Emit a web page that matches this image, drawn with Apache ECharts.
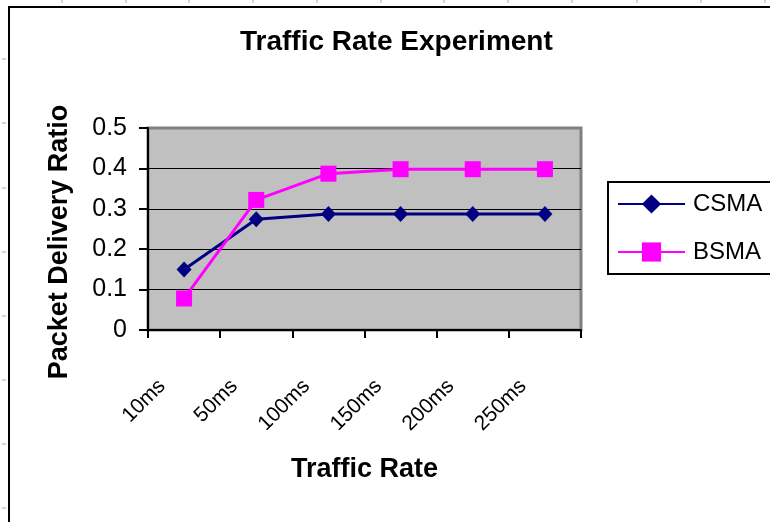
<!DOCTYPE html>
<html>
<head>
<meta charset="utf-8">
<script src="https://cdn.jsdelivr.net/npm/echarts@6/dist/echarts.min.js"></script>
<style>
  html, body { margin: 0; padding: 0; background: #fff; }
  #chart { width: 770px; height: 522px; }
</style>
</head>
<body>
<div id="chart"></div>
<script>
// Traffic rate sweep: packet delivery ratio per MAC scheme
const categories = ['10ms', '50ms', '100ms', '150ms', '200ms', '250ms'];
const csma = [0.15, 0.274, 0.287, 0.287, 0.287, 0.287];
const bsma = [0.078, 0.322, 0.387, 0.398, 0.398, 0.398];
const yTicks = { min: 0, max: 0.5, step: 0.1 };

const FONT = '"Liberation Sans", Arial, sans-serif';

// faint spreadsheet cell markers around the chart object
const cellMarks = [];
[62, 126, 189, 253, 317, 381, 444, 508, 572, 637, 701, 765].forEach(function (x) {
  cellMarks.push({ type: 'rect', silent: true, shape: { x: x - 1, y: 0, width: 2, height: 3 }, style: { fill: '#c9d3f7' } });
});
[59, 123, 188, 252, 316, 380, 444, 508].forEach(function (y) {
  cellMarks.push({ type: 'rect', silent: true, shape: { x: 2, y: y - 1, width: 4, height: 2 }, style: { fill: '#c9d3f7' } });
});

const chart = echarts.init(document.getElementById('chart'), null, { renderer: 'canvas' });
chart.setOption({
  animation: false,
  backgroundColor: '#fff',
  title: {
    text: 'Traffic Rate Experiment',
    left: 235,
    top: 23,
    textStyle: { fontFamily: FONT, fontSize: 28, fontWeight: 'bold', color: '#000' }
  },
  legend: {
    orient: 'vertical',
    left: 608,
    top: 182,
    padding: [10, 40, 10, 9],
    itemWidth: 67,
    itemHeight: 24,
    itemGap: 24,
    borderColor: '#000',
    borderWidth: 2,
    textStyle: { fontFamily: FONT, fontSize: 24, color: '#000', padding: [0, 0, 0, 3] },
    data: ['CSMA', 'BSMA']
  },
  grid: {
    left: 148,
    right: 189,
    top: 128,
    bottom: 192,
    containLabel: false,
    outerBoundsMode: 'none',
    show: true,
    backgroundColor: '#c0c0c0',
    borderColor: '#808080',
    borderWidth: 3
  },
  xAxis: {
    type: 'category',
    data: categories,
    boundaryGap: true,
    name: 'Traffic Rate',
    nameLocation: 'middle',
    nameGap: 126,
    nameTextStyle: { fontFamily: FONT, fontSize: 27, fontWeight: 'bold', color: '#000' },
    axisLine: { lineStyle: { color: '#000', width: 2 } },
    axisTick: { show: true, inside: false, length: 8, alignWithLabel: false, lineStyle: { color: '#000', width: 2 } },
    axisLabel: {
      rotate: 45,
      interval: 0,
      margin: 31,
      padding: [0, 31, 0, 0],
      fontFamily: FONT,
      fontSize: 21,
      color: '#000'
    },
    splitLine: { show: false }
  },
  yAxis: {
    type: 'value',
    min: yTicks.min,
    max: yTicks.max,
    interval: yTicks.step,
    name: 'Packet Delivery Ratio',
    nameLocation: 'middle',
    nameGap: 75,
    nameTextStyle: { fontFamily: FONT, fontSize: 27, fontWeight: 'bold', color: '#000', padding: [0, 26, 0, 0] },
    axisLine: { show: true, lineStyle: { color: '#000', width: 2 } },
    axisTick: { show: true, inside: false, length: 9, lineStyle: { color: '#000', width: 2 } },
    axisLabel: { margin: 21, fontFamily: FONT, fontSize: 25, color: '#000' },
    splitLine: { show: true, showMinLine: false, showMaxLine: false, lineStyle: { color: '#000', width: 1 } }
  },
  series: [
    {
      name: 'CSMA',
      type: 'line',
      data: csma,
      symbol: 'diamond',
      symbolSize: [15, 16],
      showAllSymbol: true,
      lineStyle: { color: '#000080', width: 3 },
      itemStyle: { color: '#000080' },
      z: 3
    },
    {
      name: 'BSMA',
      type: 'line',
      data: bsma,
      symbol: 'rect',
      symbolSize: 16,
      showAllSymbol: true,
      lineStyle: { color: '#ff00ff', width: 3 },
      itemStyle: { color: '#ff00ff' },
      z: 4
    }
  ],
  graphic: [
    {
      type: 'rect',
      silent: true,
      shape: { x: 9, y: 7, width: 900, height: 700 },
      style: { fill: null, stroke: '#000', lineWidth: 2 }
    }
  ].concat(cellMarks)
});
</script>
</body>
</html>
